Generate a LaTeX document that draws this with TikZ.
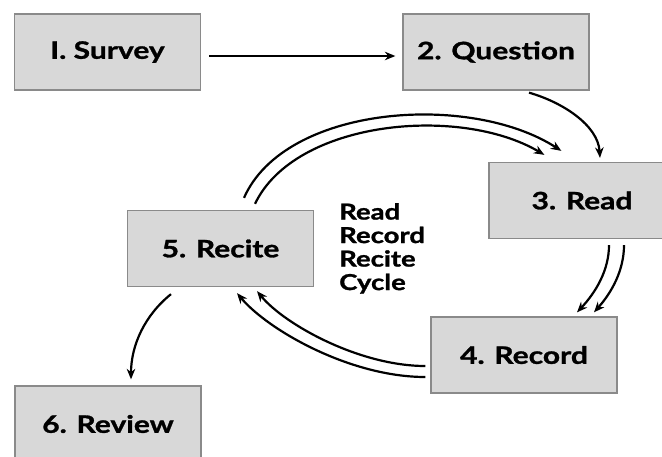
\documentclass[tikz,border=0pt]{standalone}
\usepackage{fontspec}
\setmainfont{Lato}[BoldFeatures={FakeStretch=1.25, FakeBold=1.2}]
\usetikzlibrary{arrows.meta,calc}
\definecolor{boxfill}{HTML}{D8D8D8}
\definecolor{boxline}{HTML}{8A8A8A}
\tikzset{
  stepbox/.style={draw=boxline, line width=1.3pt, fill=boxfill, minimum width=186pt,
    minimum height=76pt, inner sep=0pt, font=\bfseries\fontsize{24}{28}\selectfont},
  sidetext/.style={align=left, inner sep=0pt, font=\bfseries\fontsize{22}{23.5}\selectfont},
  arr/.style={line width=2.2pt, -{Stealth[length=10.5pt,width=8.5pt]}}
}
\begin{document}
\begin{tikzpicture}[x=1pt,y=-1pt]
\useasboundingbox (0,0) rectangle (662,456);
\fill[white] (0,0) rectangle (662,456);
\clip (0,0) rectangle (662,456);
\node[stepbox] (b1) at (107.5,52) {I. Survey};
\node[stepbox] (b2) at (496,52) {2. Question};
\node[stepbox] (b3) at (582,200.5) {3. Read};
\node[stepbox] (b5) at (220.5,248.5) {5. Recite};
\node[stepbox] (b4) at (524,355) {4. Record};
\node[stepbox] (b6) at (108,424) {6. Review};
\node[sidetext, anchor=north west] (cyc) at (339,203) {Read\\Record\\Recite\\Cycle};
% 1 -> 2
\draw[arr] ($(b1.east)+(8,4)$) -- ($(b2.west)+(-7,4)$);
% 2 -> 3
\draw[arr] ($(b2.south)+(33,2)$) .. controls (562,102) and (598,125) .. ($(b3.north)+(18,-4)$);
% 5 -> 3 (two arcs)
\draw[arr] ($(b5.north)+(23.5,-12)$) .. controls (285,105) and (470,92) .. ($(b3.north west)+(73,-11)$);
\draw[arr] ($(b5.north)+(34.5,-6)$) .. controls (295,120) and (460,105) .. ($(b3.north west)+(56,-7)$);
% 3 -> 4 (two arcs)
\draw[arr] ($(b3.south)+(27,6)$) .. controls (609,270) and (596,292) .. ($(b4.north)+(53,-4)$);
\draw[arr] ($(b3.south)+(42,6)$) .. controls (624,270) and (612,292) .. ($(b4.north)+(70,-4)$);
% 4 -> 5 (two arcs)
\draw[arr] ($(b4.west)+(-5,11)$) .. controls (360,366) and (285,325) .. ($(b5.south)+(36.5,4)$);
\draw[arr] ($(b4.west)+(-5,22)$) .. controls (350,377) and (268,330) .. ($(b5.south)+(16.5,6)$);
% 5 -> 6
\draw[arr] ($(b5.south)+(-49.5,7)$) .. controls (145,315) and (131,345) .. ($(b6.north)+(23,-6)$);
\end{tikzpicture}
\end{document}
